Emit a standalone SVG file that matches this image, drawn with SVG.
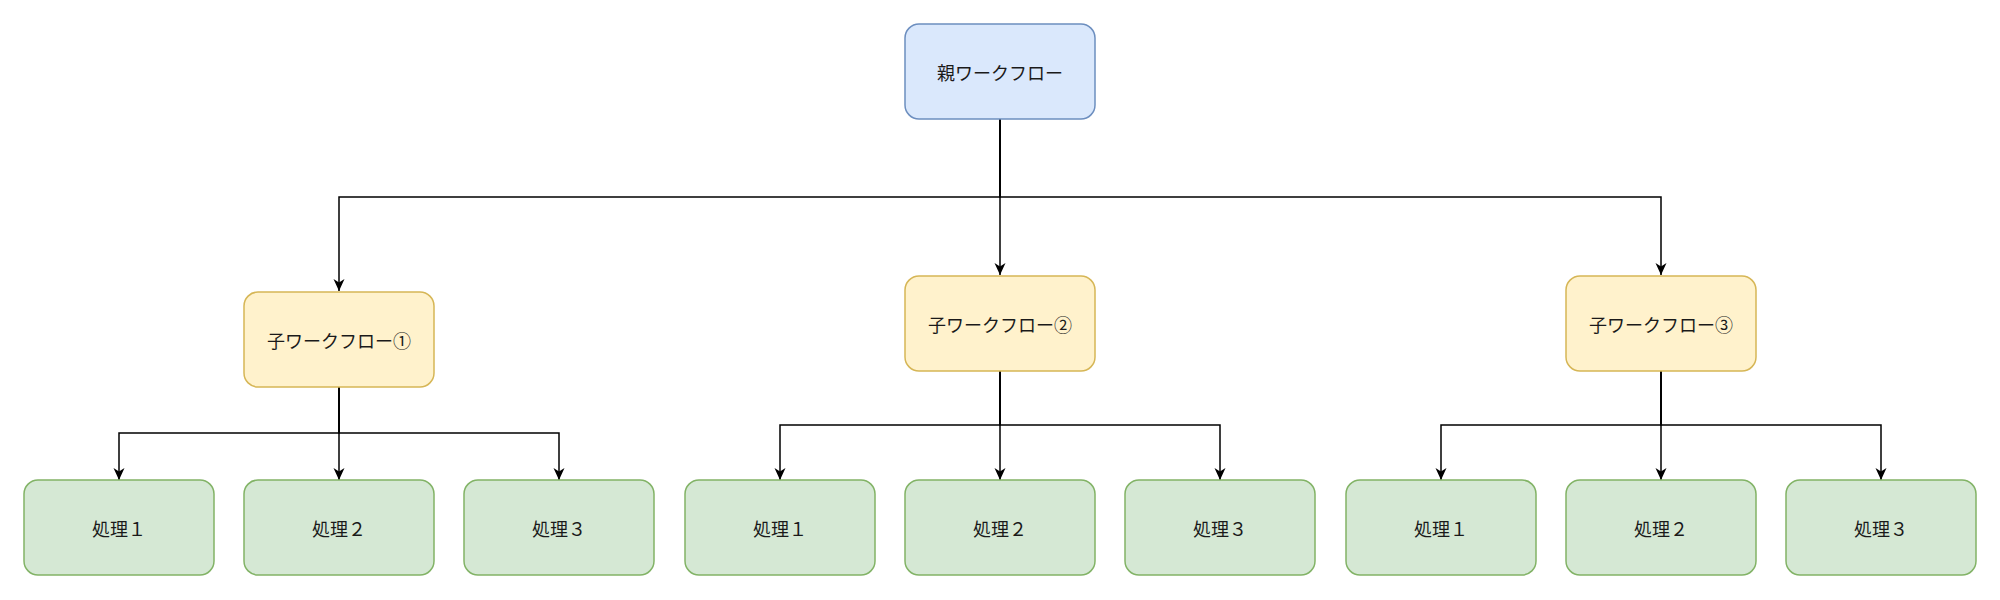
<svg xmlns="http://www.w3.org/2000/svg" width="2000" height="600" viewBox="0 0 2000 600">
  <style>
    .box { stroke-width: 1.5; }
    .parent { fill: #dae8fc; stroke: #6c8ebf; }
    .child { fill: #fff2cc; stroke: #d6b656; }
    .leaf { fill: #d5e8d4; stroke: #82b366; }
    .label { font-family: "Noto Sans CJK JP", "Noto Sans", sans-serif; font-size: 18px; fill: #1a1a1a; text-anchor: middle; dominant-baseline: central; }
    .edge { fill: none; stroke: #000; stroke-width: 1.5; marker-end: url(#arrow); }
  </style>
  <defs>
    <marker id="arrow" viewBox="0 0 12 12" refX="12" refY="6" markerWidth="12" markerHeight="12" markerUnits="userSpaceOnUse" orient="auto">
      <path d="M0,0.5 L12,6 L0,11.5 L3.5,6 Z" fill="#000"/>
    </marker>
  </defs>
  <rect width="2000" height="600" fill="#fff"/>

  <g id="connectors">
    <path class="edge" d="M1000,119 V197 H339 V291"/>
    <path class="edge" d="M1000,119 V275"/>
    <path class="edge" d="M1000,119 V197 H1661 V275"/>
    <path class="edge" d="M339,387 V433 H119 V480"/>
    <path class="edge" d="M339,387 V480"/>
    <path class="edge" d="M339,387 V433 H559 V480"/>
    <path class="edge" d="M1000,371 V425 H780 V480"/>
    <path class="edge" d="M1000,371 V480"/>
    <path class="edge" d="M1000,371 V425 H1220 V480"/>
    <path class="edge" d="M1661,371 V425 H1441 V480"/>
    <path class="edge" d="M1661,371 V480"/>
    <path class="edge" d="M1661,371 V425 H1881 V480"/>
  </g>

  <g id="parent">
    <rect class="box parent" x="905" y="24" width="190" height="95" rx="14" ry="14"/>
    <text class="label" x="1000" y="71.5">親ワークフロー</text>
  </g>

  <g id="child1">
    <rect class="box child" x="244" y="292" width="190" height="95" rx="14" ry="14"/>
    <text class="label" x="339" y="339.5">子ワークフロー①</text>
  </g>
  <g id="child2">
    <rect class="box child" x="905" y="276" width="190" height="95" rx="14" ry="14"/>
    <text class="label" x="1000" y="323.5">子ワークフロー②</text>
  </g>
  <g id="child3">
    <rect class="box child" x="1566" y="276" width="190" height="95" rx="14" ry="14"/>
    <text class="label" x="1661" y="323.5">子ワークフロー③</text>
  </g>

  <g id="leaf1-1">
    <rect class="box leaf" x="24" y="480" width="190" height="95" rx="14" ry="14"/>
    <text class="label" x="119" y="527.5">処理１</text>
  </g>
  <g id="leaf1-2">
    <rect class="box leaf" x="244" y="480" width="190" height="95" rx="14" ry="14"/>
    <text class="label" x="339" y="527.5">処理２</text>
  </g>
  <g id="leaf1-3">
    <rect class="box leaf" x="464" y="480" width="190" height="95" rx="14" ry="14"/>
    <text class="label" x="559" y="527.5">処理３</text>
  </g>

  <g id="leaf2-1">
    <rect class="box leaf" x="685" y="480" width="190" height="95" rx="14" ry="14"/>
    <text class="label" x="780" y="527.5">処理１</text>
  </g>
  <g id="leaf2-2">
    <rect class="box leaf" x="905" y="480" width="190" height="95" rx="14" ry="14"/>
    <text class="label" x="1000" y="527.5">処理２</text>
  </g>
  <g id="leaf2-3">
    <rect class="box leaf" x="1125" y="480" width="190" height="95" rx="14" ry="14"/>
    <text class="label" x="1220" y="527.5">処理３</text>
  </g>

  <g id="leaf3-1">
    <rect class="box leaf" x="1346" y="480" width="190" height="95" rx="14" ry="14"/>
    <text class="label" x="1441" y="527.5">処理１</text>
  </g>
  <g id="leaf3-2">
    <rect class="box leaf" x="1566" y="480" width="190" height="95" rx="14" ry="14"/>
    <text class="label" x="1661" y="527.5">処理２</text>
  </g>
  <g id="leaf3-3">
    <rect class="box leaf" x="1786" y="480" width="190" height="95" rx="14" ry="14"/>
    <text class="label" x="1881" y="527.5">処理３</text>
  </g>
</svg>
